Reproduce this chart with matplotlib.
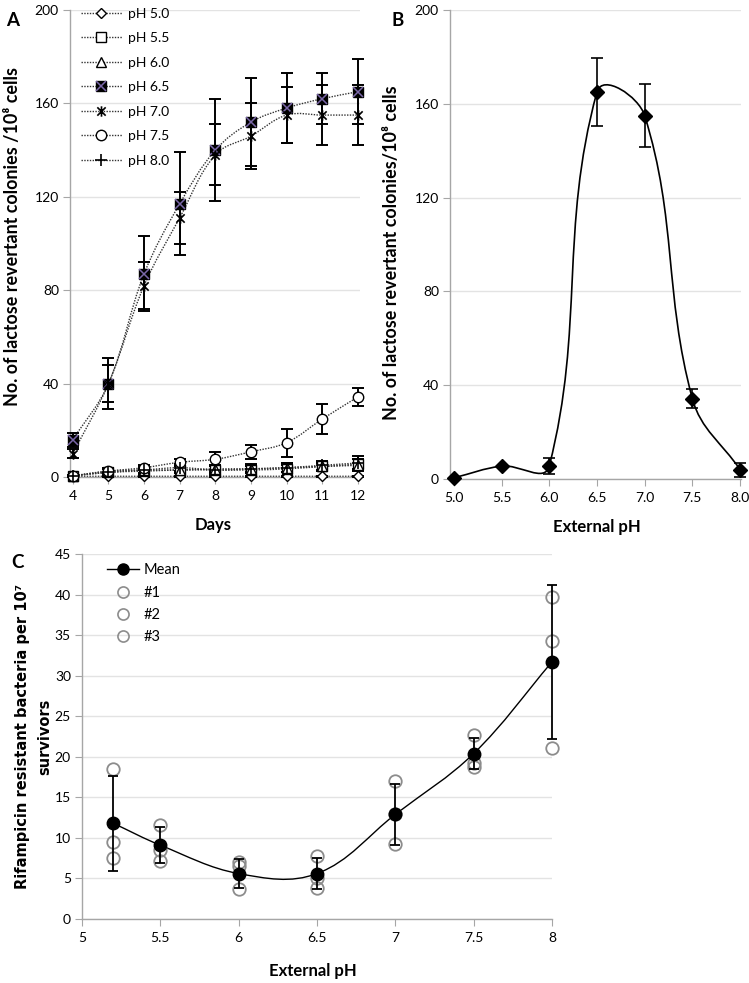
import numpy as np
import matplotlib
matplotlib.use("Agg")
import matplotlib.pyplot as plt
from matplotlib.path import Path
from matplotlib.patches import PathPatch
from matplotlib.lines import Line2D

# ---------------- data ----------------
days = [4, 5, 6, 7, 8, 9, 10, 11, 12]
ph50 = [0.3, 0.3, 0.3, 0.3, 0.3, 0.3, 0.3, 0.3, 0.3]
ph50_err = [0.3, 0.3, 0.3, 0.3, 0.3, 0.3, 0.3, 0.3, 0.3]
ph55 = [0.5, 2.0, 2.5, 3.0, 3.0, 3.0, 3.5, 4.5, 5.5]
ph55_err = [0.5, 1.5, 1.5, 1.5, 1.5, 1.5, 1.5, 1.5, 2.0]
ph60 = [0.5, 2.5, 3.0, 3.0, 3.5, 3.5, 4.0, 4.5, 5.0]
ph60_err = [0.5, 1.5, 1.5, 1.5, 1.5, 1.5, 2.0, 2.0, 2.5]
ph65 = [16, 40, 87, 117, 140, 152, 158, 162, 165]
ph65_err = [3, 11, 16, 22, 22, 19, 15, 11, 14]
ph70 = [10, 40, 82, 111, 138, 146, 155, 155, 155]
ph70_err = [2, 8, 10, 11, 13, 14, 12, 13, 13]
ph75 = [0.5, 2.5, 4.0, 6.3, 7.6, 10.8, 14.7, 24.8, 34.3]
ph75_err = [0.5, 1.0, 1.0, 1.5, 3.0, 3.0, 6.0, 6.5, 4.0]
ph80 = [0.5, 2.0, 3.0, 4.0, 3.0, 3.5, 4.0, 5.0, 6.0]
ph80_err = [0.5, 1.5, 1.5, 1.5, 2.0, 2.0, 2.0, 2.0, 3.0]
legend_a = ["pH 5.0", "pH 5.5", "pH 6.0", "pH 6.5", "pH 7.0", "pH 7.5", "pH 8.0"]

ext_ph_b = [5.0, 5.5, 6.0, 6.5, 7.0, 7.5, 8.0]
rev_b = [0.5, 5.5, 5.5, 165, 155, 34.3, 4.0]
rev_b_err = [0.0, 0.0, 3.5, 14.5, 13.5, 4.0, 3.0]

ext_ph_c = [5.2, 5.5, 6.0, 6.5, 7.0, 7.5, 8.0]
rif_mean = [11.8, 9.1, 5.6, 5.6, 12.9, 20.4, 31.7]
rif_err = [5.85, 2.2, 1.75, 1.95, 3.8, 1.9, 9.5]
rif_r1 = [18.5, 11.6, 7.0, 7.8, 17.0, 22.7, 39.7]
rif_r2 = [9.5, 8.5, 6.5, 5.0, 13.0, 19.2, 34.3]
rif_r3 = [7.5, 7.2, 3.7, 3.8, 9.2, 18.8, 21.1]
legend_c = ["Mean", "#1", "#2", "#3"]

# ---------------- style ----------------
W, H = 749, 983
fig = plt.figure(figsize=(W / 100, H / 100), dpi=100)
TXT = ["Lato", "DejaVu Sans"]
GRID = "#e3e3e3"
SPINE = "#a6a6a6"

# asterisk-like marker (X with a vertical stroke), as in spreadsheet "star" markers
STAR = Path([(-1, -1), (1, 1), (-1, 1), (1, -1), (0, -1.25), (0, 1.25)],
            [Path.MOVETO, Path.LINETO, Path.MOVETO, Path.LINETO, Path.MOVETO, Path.LINETO])


def frac(l, t, r, b):
    return [l / W, 1 - b / H, (r - l) / W, (b - t) / H]


def smooth_path(ax, x, y, s=0.36):
    """Smoothed (Bezier) line through the data points, like a spreadsheet smooth line."""
    pts = ax.transData.transform(np.column_stack([x, y]))
    n = len(pts)
    verts = [pts[0]]
    codes = [Path.MOVETO]
    for i in range(n - 1):
        p0 = pts[i - 1] if i > 0 else pts[i]
        p1 = pts[i]
        p2 = pts[i + 1]
        p3 = pts[i + 2] if i + 2 < n else pts[i + 1]
        d = np.linalg.norm(p2 - p1)
        t1 = p2 - p0
        t1 = t1 / np.linalg.norm(t1)
        t2 = p3 - p1
        t2 = t2 / np.linalg.norm(t2)
        verts += [p1 + s * d * t1, p2 - s * d * t2, p2]
        codes += [Path.CURVE4] * 3
    verts = ax.transData.inverted().transform(np.array(verts))
    return Path(verts, codes)


def style_axes(ax):
    for sp in ["top", "right"]:
        ax.spines[sp].set_visible(False)
    for sp in ["left", "bottom"]:
        ax.spines[sp].set_color(SPINE)
        ax.spines[sp].set_linewidth(1.0)
    ax.yaxis.grid(True, color=GRID, linewidth=1.0)
    ax.set_axisbelow(True)
    ax.tick_params(axis="y", length=5, color=SPINE, labelsize=10, pad=3)
    ax.tick_params(axis="x", length=5, color=SPINE, labelsize=10, pad=4)
    for lab in ax.get_xticklabels() + ax.get_yticklabels():
        lab.set_family(TXT)


# ---------------- panel A ----------------
axA = fig.add_axes(frac(70, 10, 360, 477))
axA.set_xlim(3.92, 12.06)
axA.set_ylim(0, 200)
axA.set_yticks([0, 40, 80, 120, 160, 200])
axA.set_xticks(days)
style_axes(axA)

series = [
    (ph50, ph50_err, dict(marker="D", ms=5.5, mfc="white", mec="black", mew=1.0)),
    (ph55, ph55_err, dict(marker="s", ms=6.5, mfc="white", mec="black", mew=1.0)),
    (ph60, ph60_err, dict(marker="^", ms=6.5, mfc="white", mec="black", mew=1.0)),
    (ph65, ph65_err, dict(marker="s", ms=7.5, mfc="black", mec="black", mew=1.0)),
    (ph70, ph70_err, dict(marker=STAR, ms=7.5, mfc="none", mec="black", mew=1.2)),
    (ph75, ph75_err, dict(marker="o", ms=7.5, mfc="white", mec="black", mew=1.0)),
    (ph80, ph80_err, dict(marker="+", ms=8, mfc="none", mec="black", mew=1.2)),
]
handles = []
for k, (vals, err, mk) in enumerate(series):
    axA.add_patch(PathPatch(smooth_path(axA, days, vals), fill=False,
                            edgecolor="#333333", lw=1.0, ls=(0, (1, 1)), zorder=2))
    axA.errorbar(days, vals, yerr=err, fmt="none", ecolor="black", elinewidth=1.4,
                 capsize=4, capthick=1.4, zorder=3, clip_on=False)
    axA.plot(days, vals, ls="none", zorder=4 + k * 0.1, clip_on=False, **mk)
    h = Line2D([], [], color="#333333", lw=1.0, ls=(0, (1, 1)), **mk)
    if k == 3:
        axA.plot(days, vals, ls="none", marker="x", ms=6.5, mec="#7a67a8", mew=1.1,
                 zorder=4.35, clip_on=False)
        hx = Line2D([], [], ls="none", marker="x", ms=6.5, mec="#7a67a8", mew=1.1)
        h = (h, hx)
    handles.append(h)

axA.legend(handles, legend_a, loc="upper left", bbox_to_anchor=(-0.004, 1.032),
           frameon=False, handlelength=2.9, handletextpad=0.45, labelspacing=0.9,
           prop={"family": TXT, "size": 10})

fig.text(213 / W, 1 - 525 / H, "Days", ha="center", va="center",
         family=TXT, fontweight="bold", fontsize=12)
fig.text(13 / W, 1 - 237 / H, "No. of lactose revertant colonies /10⁸ cells", rotation=90,
         ha="center", va="center", family=TXT, fontweight="bold", fontsize=12.9)
fig.text(13 / W, 1 - 21 / H, "A", ha="center", va="center", family=TXT,
         fontweight="bold", fontsize=13.5)

# ---------------- panel B ----------------
axB = fig.add_axes(frac(450, 10, 741, 479))
axB.set_xlim(4.96, 8.01)
axB.set_ylim(0, 200)
axB.set_yticks([0, 40, 80, 120, 160, 200])
axB.set_xticks(ext_ph_b)
axB.set_xticklabels([f"{v:.1f}" for v in ext_ph_b])
style_axes(axB)
axB.add_patch(PathPatch(smooth_path(axB, ext_ph_b, rev_b, s=0.38), fill=False,
                        edgecolor="black", lw=1.2, zorder=2))
axB.errorbar(ext_ph_b, rev_b, yerr=rev_b_err, fmt="none", ecolor="black",
             elinewidth=1.2, capsize=4, capthick=1.2, zorder=3, clip_on=False)
axB.plot(ext_ph_b, rev_b, ls="none", marker="D", ms=7.5, mfc="black", mec="black",
         zorder=4, clip_on=False)

fig.text(597 / W, 1 - 527 / H, "External pH", ha="center", va="center",
         family=TXT, fontweight="bold", fontsize=12)
fig.text(392 / W, 1 - 253 / H, "No. of lactose revertant colonies/10⁸ cells", rotation=90,
         ha="center", va="center", family=TXT, fontweight="bold", fontsize=12.9)
fig.text(398 / W, 1 - 20 / H, "B", ha="center", va="center", family=TXT,
         fontweight="bold", fontsize=13.5)

# ---------------- panel C ----------------
axC = fig.add_axes(frac(82, 554, 552, 919))
axC.set_xlim(5, 8)
axC.set_ylim(0, 45)
axC.set_yticks(range(0, 46, 5))
axC.set_xticks([5, 5.5, 6, 6.5, 7, 7.5, 8])
axC.set_xticklabels(["5", "5.5", "6", "6.5", "7", "7.5", "8"])
style_axes(axC)

rep_style = dict(ls="none", marker="o", ms=9, mfc="none", mec="#8c8c8c", mew=1.3)
for r in (rif_r1, rif_r2, rif_r3):
    axC.plot(ext_ph_c, r, zorder=3, clip_on=False, **rep_style)
axC.add_patch(PathPatch(smooth_path(axC, ext_ph_c, rif_mean, s=0.36), fill=False,
                        edgecolor="black", lw=1.0, zorder=2))
axC.errorbar(ext_ph_c, rif_mean, yerr=rif_err, fmt="none", ecolor="black",
             elinewidth=1.3, capsize=3.5, capthick=1.3, zorder=4, clip_on=False)
axC.plot(ext_ph_c, rif_mean, ls="none", marker="o", ms=9, mfc="black", mec="black",
         zorder=5, clip_on=False)

hC = [Line2D([], [], color="black", lw=1.0, marker="o", ms=8, mfc="black", mec="black")]
hC += [Line2D([], [], ls="none", marker="o", ms=8, mfc="none", mec="#8c8c8c", mew=1.2)
       for _ in range(3)]
axC.legend(hC, legend_c, loc="upper left", bbox_to_anchor=(0.025, 1.01), frameon=False,
           handlelength=2.2, handletextpad=0.3, labelspacing=0.57,
           prop={"family": TXT, "size": 10.5})

fig.text(313 / W, 1 - 971 / H, "External pH", ha="center", va="center",
         family=TXT, fontweight="bold", fontsize=12)
axC.set_ylabel("Rifampicin resistant bacteria per 10⁷\nsurvivors", family="DejaVu Sans",
               fontweight="bold", fontsize=10.5, labelpad=2, linespacing=1.55)
fig.text(17 / W, 1 - 563 / H, "C", ha="center", va="center", family=TXT,
         fontweight="bold", fontsize=13.5)

fig.savefig("out.png", dpi=100)
